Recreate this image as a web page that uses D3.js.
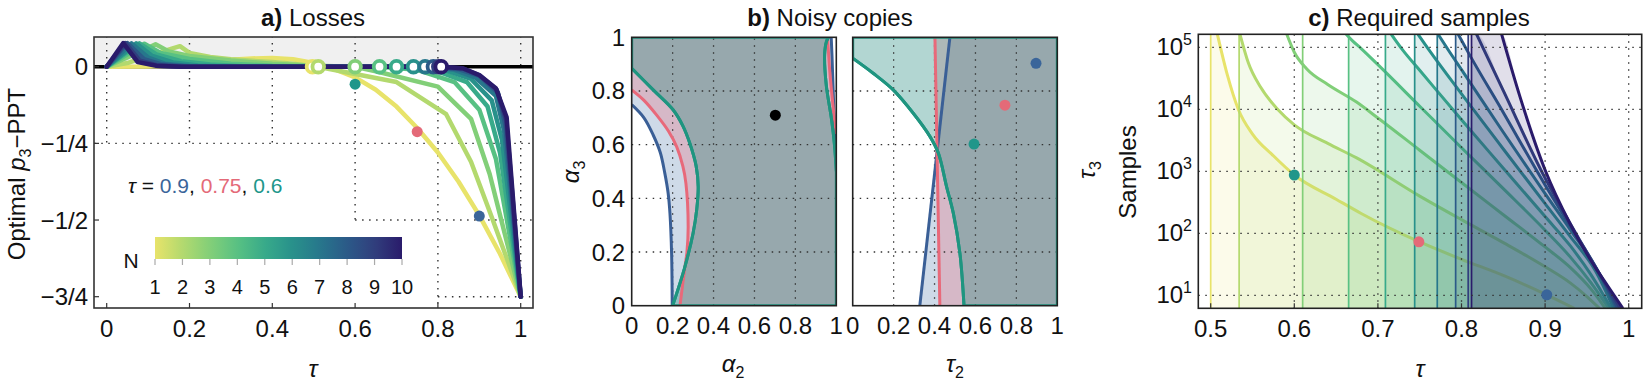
<!DOCTYPE html>
<html>
<head>
<meta charset="utf-8">
<script src="https://cdn.jsdelivr.net/npm/d3@7"></script>
<style>
body { margin: 0; background: #fff; }
</style>
</head>
<body>
<script>
// ---- data ----
var nValues = [1, 2, 3, 4, 5, 6, 7, 8, 9, 10];
var nColors = ["#e8e36a", "#b3d96e", "#82cf78", "#58c183", "#38aa8a", "#28918b", "#27778c", "#2b5a88", "#313e7d", "#2a1b6b"];

var highlightTau = ["0.9", "0.75", "0.6"];
var highlightColors = ["#3a659a", "#e46a78", "#20968a"];

// panel a: optimal p3 - PPT vs tau, one curve per N
var lossCurves = [
  [[0,0],[0.1,0.001],[0.15,0.004],[0.2,0.01],[0.25,0.017],[0.3,0.023],[0.35,0.027],[0.4,0.028],[0.45,0.024],[0.5,0.012],[0.55,-0.008],[0.6,-0.035],[0.65,-0.075],[0.7,-0.13],[0.75,-0.2],[0.8,-0.28],[0.85,-0.375],[0.9,-0.485],[0.95,-0.61],[1,-0.75]],
  [[0,0],[0.05,0.012],[0.1,0.035],[0.177,0.067],[0.2,0.045],[0.25,0.032],[0.3,0.024],[0.4,0.015],[0.45,0.01],[0.51,0],[0.6,-0.024],[0.7,-0.05],[0.82,-0.155],[0.88,-0.31],[0.93,-0.49],[1,-0.75]],
  [[0,0],[0.05,0.03],[0.118,0.073],[0.15,0.05],[0.2,0.035],[0.3,0.02],[0.4,0.01],[0.5,0.003],[0.6,0],[0.65,-0.015],[0.8,-0.065],[0.88,-0.17],[0.925,-0.35],[1,-0.75]],
  [[0,0],[0.05,0.04],[0.091,0.075],[0.13,0.045],[0.2,0.025],[0.3,0.01],[0.4,0.003],[0.5,0],[0.66,0],[0.75,-0.01],[0.84,-0.05],[0.9,-0.14],[0.94,-0.3],[1,-0.75]],
  [[0,0],[0.079,0.076],[0.12,0.04],[0.18,0.018],[0.25,0.007],[0.35,0],[0.7,0],[0.8,-0.015],[0.87,-0.05],[0.92,-0.13],[0.95,-0.28],[1,-0.75]],
  [[0,0],[0.071,0.076],[0.11,0.035],[0.16,0.014],[0.22,0.004],[0.3,0],[0.74,0],[0.82,-0.012],[0.88,-0.04],[0.93,-0.11],[0.955,-0.24],[1,-0.75]],
  [[0,0],[0.06,0.076],[0.1,0.03],[0.14,0.01],[0.2,0.002],[0.25,0],[0.77,0],[0.84,-0.01],[0.89,-0.035],[0.94,-0.095],[0.96,-0.21],[1,-0.75]],
  [[0,0],[0.05,0.077],[0.09,0.025],[0.13,0.008],[0.2,0],[0.79,0],[0.85,-0.008],[0.9,-0.03],[0.945,-0.085],[0.963,-0.19],[1,-0.75]],
  [[0,0],[0.045,0.077],[0.08,0.02],[0.12,0.005],[0.18,0],[0.802,0],[0.86,-0.006],[0.9,-0.028],[0.942,-0.075],[0.965,-0.175],[1,-0.75]],
  [[0,0],[0.04,0.077],[0.075,0.015],[0.12,0.003],[0.18,0],[0.808,0],[0.86,-0.005],[0.9,-0.027],[0.94,-0.07],[0.966,-0.165],[1,-0.75]]
];
var zeroCrossings = [0.497, 0.511, 0.6, 0.659, 0.7, 0.741, 0.769, 0.789, 0.802, 0.808];
var lossDots = [[0.9, -0.487], [0.75, -0.212], [0.6, -0.057]];
var lossTicksX = [0, 0.2, 0.4, 0.6, 0.8, 1];
var lossTickLabelsX = ["0", "0.2", "0.4", "0.6", "0.8", "1"];
var lossTicksY = [0, -0.25, -0.5, -0.75];
var lossTickLabelsY = ["0", "\u22121/4", "\u22121/2", "\u22123/4"];
// dotted grid pieces [x1, y1, x2, y2]
var lossGrid = [
  [0, 0.1, 0, -0.25], [0.2, 0.1, 0.2, -0.25], [0.4, 0.1, 0.4, -0.25],
  [0.6, 0.1, 0.6, -0.5], [0.8, 0.1, 0.8, -0.79], [1, 0.1, 1, -0.75],
  [-0.03, -0.25, 1.03, -0.25], [0.6, -0.5, 1.03, -0.5], [0.8, -0.75, 1.03, -0.75]
];

// panel b left: alpha2 / alpha3 regions
var blueLeftA = [[0,0.749],[0.06,0.7],[0.105,0.636],[0.14,0.57],[0.162,0.493],[0.178,0.42],[0.187,0.344],[0.195,0.195],[0.198,0]];
var redLeftA = [[0,0.804],[0.06,0.765],[0.122,0.71],[0.18,0.65],[0.22,0.592],[0.25,0.52],[0.265,0.456],[0.276,0.294],[0.27,0.2],[0.26,0.145],[0.236,0]];
var tealLeftA = [[0,0.884],[0.105,0.804],[0.203,0.729],[0.25,0.67],[0.284,0.605],[0.315,0.52],[0.325,0.443],[0.318,0.36],[0.3,0.27],[0.26,0.145],[0.2,0]];
var blueRightA = [[1,0.6],[0.99,0.7],[0.984,0.82],[0.979,0.93],[0.976,0.984],[0.975,1]];
var redRightA = [[1,0.64],[0.987,0.723],[0.967,0.884],[0.959,0.984],[0.958,1]];
var tealRightA = [[1,0.5],[0.991,0.6],[0.976,0.698],[0.951,0.822],[0.943,0.934],[0.952,0.985],[0.962,1]];
var alphaDot = [0.702, 0.71];

// panel b right: tau2 / tau3 regions
var blueLineT = [[0.328,0],[0.475,1]];
var redLineT = [[0.426,0],[0.402,1]];
var tealCurveT = [[0,0.922],[0.1,0.866],[0.198,0.804],[0.296,0.717],[0.378,0.63],[0.419,0.568],[0.459,0.443],[0.492,0.344],[0.524,0.195],[0.544,0]];
var tauDots = [[0.896,0.903],[0.744,0.747],[0.593,0.602]];
var unitTicks = [0, 0.2, 0.4, 0.6, 0.8, 1];
var unitTickLabels = ["0", "0.2", "0.4", "0.6", "0.8", "1"];

// panel c: required samples (log10) vs tau
var sampleThresholds = [0.5, 0.534, 0.61, 0.665, 0.709, 0.744, 0.771, 0.793, 0.808, 0.812];
var sampleCurvesLog10 = [
  [[0.508,5.21],[0.52,4.55],[0.533,4.0],[0.55,3.6],[0.575,3.25],[0.6,2.94],[0.65,2.55],[0.68,2.32],[0.75,1.86],[0.8,1.58],[0.85,1.32],[0.9,1.02],[0.935,0.79]],
  [[0.535,5.21],[0.545,4.75],[0.56,4.35],[0.58,4.0],[0.6,3.75],[0.64,3.45],[0.674,3.22],[0.75,2.6],[0.8,2.22],[0.85,1.85],[0.9,1.46],[0.93,1.2],[0.95,0.98],[0.965,0.79]],
  [[0.591,5.21],[0.6,4.92],[0.615,4.65],[0.64,4.4],[0.674,4.12],[0.7,3.86],[0.75,3.34],[0.8,2.82],[0.85,2.3],[0.9,1.78],[0.93,1.45],[0.955,1.1],[0.972,0.79]],
  [[0.662,5.21],[0.67,5.1],[0.68,4.98],[0.7,4.72],[0.75,4.05],[0.8,3.38],[0.85,2.72],[0.9,2.05],[0.93,1.62],[0.955,1.2],[0.976,0.79]],
  [[0.716,5.21],[0.73,4.95],[0.75,4.63],[0.8,3.83],[0.85,3.05],[0.9,2.27],[0.93,1.8],[0.955,1.33],[0.979,0.79]],
  [[0.748,5.21],[0.76,4.98],[0.8,4.25],[0.85,3.36],[0.9,2.48],[0.93,1.95],[0.96,1.4],[0.982,0.79]],
  [[0.772,5.21],[0.785,4.94],[0.8,4.64],[0.85,3.63],[0.9,2.64],[0.93,2.06],[0.96,1.46],[0.985,0.79]],
  [[0.796,5.21],[0.81,4.87],[0.85,3.95],[0.9,2.78],[0.93,2.12],[0.96,1.47],[0.987,0.79]],
  [[0.818,5.21],[0.85,4.3],[0.9,2.89],[0.93,2.16],[0.96,1.46],[0.99,0.79]],
  [[0.848,5.21],[0.87,4.2],[0.9,3.02],[0.93,2.15],[0.96,1.45],[0.975,1.15],[0.993,0.79]]
];
var sampleDots = [[0.902, 10.2], [0.749, 73], [0.6, 870]];
var tauTicksC = [0.5, 0.6, 0.7, 0.8, 0.9, 1];
var tauTickLabelsC = ["0.5", "0.6", "0.7", "0.8", "0.9", "1"];
var sampleTicks = [10, 100, 1000, 10000, 100000];
var sampleTickExps = ["1", "2", "3", "4", "5"];

// ---- drawing ----
var FONT = "'Liberation Sans', Arial, sans-serif";
var DOTS = "1.5,5.5";
var svg = d3.select("body").append("svg").attr("width", 1644).attr("height", 386)
  .style("font-family", FONT);
var defs = svg.append("defs");

function clip(id, x0, y0, x1, y1) {
  defs.append("clipPath").attr("id", id).append("rect")
    .attr("x", x0).attr("y", y0).attr("width", x1 - x0).attr("height", y1 - y0);
  return "url(#" + id + ")";
}
function txt(g, x, y, s, size, anchor) {
  return g.append("text").attr("x", x).attr("y", y).attr("font-size", size)
    .attr("text-anchor", anchor || "middle").attr("fill", "#111").text(s);
}
function title(x, bold, rest) {
  var t = svg.append("text").attr("x", x).attr("y", 26).attr("font-size", 24)
    .attr("text-anchor", "middle").attr("fill", "#111");
  t.append("tspan").attr("font-weight", "bold").text(bold);
  t.append("tspan").text(" " + rest);
}
function subLabel(g, x, y, sym, sub, rot) {
  var t = g.append("text").attr("font-size", 24).attr("fill", "#111")
    .attr("text-anchor", "middle")
    .attr("transform", "translate(" + x + "," + y + ")" + (rot ? " rotate(-90)" : ""));
  t.append("tspan").attr("font-style", "italic").text(sym);
  t.append("tspan").attr("font-size", 16).attr("dy", 6).text(sub);
  return t;
}

// ===== panel a =====
var boxA = {x0: 94, x1: 533, y0: 37, y1: 308};
var xA = d3.scaleLinear().domain([0, 1]).range([106.7, 520.7]);
var yA = d3.scaleLinear().domain([0, -0.75]).range([66.7, 296.7]);
var gA = svg.append("g");
var clipA = clip("clipA", boxA.x0, boxA.y0, boxA.x1, boxA.y1);
var inA = gA.append("g").attr("clip-path", clipA);

inA.append("rect").attr("x", boxA.x0).attr("y", boxA.y0)
  .attr("width", boxA.x1 - boxA.x0).attr("height", yA(0) - boxA.y0).attr("fill", "#f0f0f0");

inA.selectAll("line.grid").data(lossGrid).enter().append("line")
  .attr("x1", d => xA(d[0])).attr("y1", d => yA(d[1]))
  .attr("x2", d => xA(d[2])).attr("y2", d => yA(d[3]))
  .attr("stroke", "#333").attr("stroke-width", 1.4).attr("stroke-dasharray", DOTS);

inA.append("line").attr("x1", boxA.x0).attr("x2", boxA.x1)
  .attr("y1", yA(0)).attr("y2", yA(0)).attr("stroke", "#000").attr("stroke-width", 3.5);

var lineA = d3.line().x(d => xA(d[0])).y(d => yA(d[1]));
inA.selectAll("path.loss").data(lossCurves).enter().append("path")
  .attr("d", lineA).attr("fill", "none")
  .attr("stroke", (d, i) => nColors[i]).attr("stroke-width", 4.5)
  .attr("stroke-linejoin", "round").attr("stroke-linecap", "round");

inA.selectAll("circle.open").data(zeroCrossings).enter().append("circle")
  .attr("cx", d => xA(d)).attr("cy", yA(0)).attr("r", 5.8)
  .attr("fill", "#fff").attr("stroke", (d, i) => nColors[i]).attr("stroke-width", 3.8);

inA.selectAll("circle.hl").data(lossDots).enter().append("circle")
  .attr("cx", d => xA(d[0])).attr("cy", d => yA(d[1])).attr("r", 5.5)
  .attr("fill", (d, i) => highlightColors[i]);

gA.append("rect").attr("x", boxA.x0).attr("y", boxA.y0)
  .attr("width", boxA.x1 - boxA.x0).attr("height", boxA.y1 - boxA.y0)
  .attr("fill", "none").attr("stroke", "#333").attr("stroke-width", 1.6);

lossTicksX.forEach(function (t, i) {
  gA.append("line").attr("x1", xA(t)).attr("x2", xA(t)).attr("y1", boxA.y1).attr("y2", boxA.y1 - 5)
    .attr("stroke", "#333").attr("stroke-width", 1.2);
  txt(gA, xA(t), 337, lossTickLabelsX[i], 24);
});
lossTicksY.forEach(function (t, i) {
  gA.append("line").attr("x1", boxA.x0).attr("x2", boxA.x0 + 5).attr("y1", yA(t)).attr("y2", yA(t))
    .attr("stroke", "#333").attr("stroke-width", 1.2);
  txt(gA, 88, yA(t) + 8.5, lossTickLabelsY[i], 24, "end");
});
txt(gA, 313, 377, "\u03c4", 24).attr("font-style", "italic");
var yl = gA.append("text").attr("font-size", 24).attr("fill", "#111").attr("text-anchor", "middle")
  .attr("transform", "translate(25,174) rotate(-90)");
yl.append("tspan").text("Optimal ");
yl.append("tspan").attr("font-style", "italic").text("p");
yl.append("tspan").attr("font-size", 16).attr("dy", 6).text("3");
yl.append("tspan").attr("dy", -6).text("\u2212PPT");

var leg = gA.append("text").attr("x", 128).attr("y", 193).attr("font-size", 21).attr("fill", "#111");
leg.append("tspan").attr("font-style", "italic").text("\u03c4");
leg.append("tspan").text(" = ");
highlightTau.forEach(function (t, i) {
  leg.append("tspan").attr("fill", highlightColors[i]).text(t);
  if (i < highlightTau.length - 1) leg.append("tspan").text(", ");
});

// colour bar
var cbX = d3.scaleLinear().domain([1, 10]).range([155, 402]);
var interp = d3.piecewise(d3.interpolateRgb, nColors);
var grad = defs.append("linearGradient").attr("id", "cbar");
d3.range(0, 1.0001, 0.05).forEach(function (t) {
  grad.append("stop").attr("offset", t).attr("stop-color", interp(t));
});
gA.append("rect").attr("x", cbX(1)).attr("y", 237).attr("width", cbX(10) - cbX(1)).attr("height", 22)
  .attr("fill", "url(#cbar)");
nValues.forEach(function (n) {
  gA.append("line").attr("x1", cbX(n)).attr("x2", cbX(n)).attr("y1", 259).attr("y2", 265)
    .attr("stroke", "#aaa").attr("stroke-width", 1.2);
  txt(gA, cbX(n), 294, String(n), 20);
});
txt(gA, 131, 268, "N", 21);
title(313, "a)", "Losses");

// ===== panel b =====
var xB1 = d3.scaleLinear().domain([0, 1]).range([631.7, 836.3]);
var xB2 = d3.scaleLinear().domain([0, 1]).range([852.7, 1057.3]);
var yB = d3.scaleLinear().domain([0, 1]).range([305.7, 37.3]);
var fillB = {blue: ["#3b6aa5", 0.25], red: ["#e8697a", 0.3], teal: ["#23897d", 0.35]};
var lineB = {blue: "#3a5f96", red: "#e8697a", teal: "#1f9580"};
var gB = svg.append("g");

function subpanel(xs, id, regions) {
  var cp = clip(id, xs(0), yB(1), xs(1), yB(0));
  var g = gB.append("g").attr("clip-path", cp);
  var smooth = d3.line().x(d => xs(d[0])).y(d => yB(d[1])).curve(d3.curveCatmullRom);
  regions.forEach(function (r) {
    g.append("path").attr("d", r.area(smooth, xs)).attr("fill", fillB[r.c][0])
      .attr("fill-opacity", fillB[r.c][1]);
  });
  // grid
  [0.2, 0.4, 0.6, 0.8].forEach(function (t) {
    g.append("line").attr("x1", xs(t)).attr("x2", xs(t)).attr("y1", yB(0)).attr("y2", yB(1))
      .attr("stroke", "#333").attr("stroke-width", 1.3).attr("stroke-dasharray", DOTS);
    g.append("line").attr("x1", xs(0)).attr("x2", xs(1)).attr("y1", yB(t)).attr("y2", yB(t))
      .attr("stroke", "#333").attr("stroke-width", 1.3).attr("stroke-dasharray", DOTS);
  });
  gB.append("rect").attr("x", xs(0)).attr("y", yB(1)).attr("width", xs(1) - xs(0))
    .attr("height", yB(0) - yB(1)).attr("fill", "none").attr("stroke", "#222").attr("stroke-width", 1.6);
  regions.forEach(function (r) {
    r.lines.forEach(function (pts) {
      g.append("path").attr("d", smooth(pts)).attr("fill", "none")
        .attr("stroke", lineB[r.c]).attr("stroke-width", 3);
    });
    if (r.outline) {
      g.append("path").attr("d", r.area(smooth, xs)).attr("fill", "none")
        .attr("stroke", lineB[r.c]).attr("stroke-width", 3);
    }
  });
  return g;
}
function P(xs, x, y) { return xs(x) + "," + yB(y); }
function leftRegion(c, left, right, outline) {
  return {
    c: c, lines: [left, right], outline: outline,
    area: function (smooth, xs) {
      return "M" + P(xs, 0, 1) + smooth(left).replace(/^M/, "L") + "L" + P(xs, 1, 0) +
        smooth(right).replace(/^M/, "L") + "Z";
    }
  };
}
var gL = subpanel(xB1, "clipB1", [
  leftRegion("blue", blueLeftA, blueRightA),
  leftRegion("red", redLeftA, redRightA),
  leftRegion("teal", tealLeftA, tealRightA, true)
]);
gL.append("circle").attr("cx", xB1(alphaDot[0])).attr("cy", yB(alphaDot[1])).attr("r", 5.5).attr("fill", "#000");

function halfPlane(c, pts) {
  return {
    c: c, lines: [pts],
    area: function (smooth, xs) {
      return "M" + P(xs, pts[0][0], pts[0][1]) + "L" + P(xs, pts[1][0], pts[1][1]) +
        "L" + P(xs, 1, 1) + "L" + P(xs, 1, 0) + "Z";
    }
  };
}
var gR = subpanel(xB2, "clipB2", [
  halfPlane("blue", blueLineT),
  halfPlane("red", redLineT),
  {
    c: "teal", lines: [tealCurveT], outline: true,
    area: function (smooth, xs) {
      return "M" + P(xs, 0, 1) + smooth(tealCurveT).replace(/^M/, "L") + "L" + P(xs, 1, 0) +
        "L" + P(xs, 1, 1) + "Z";
    }
  }
]);
gR.selectAll("circle.t").data(tauDots).enter().append("circle")
  .attr("cx", d => xB2(d[0])).attr("cy", d => yB(d[1])).attr("r", 5.5)
  .attr("fill", (d, i) => highlightColors[i]);

unitTicks.forEach(function (t, i) {
  txt(gB, xB1(t), 334, unitTickLabels[i], 24);
  txt(gB, xB2(t), 334, unitTickLabels[i], 24);
  txt(gB, 625, yB(t) + 8.5, unitTickLabels[i], 24, "end");
});
subLabel(gB, 733, 372, "\u03b1", "2");
subLabel(gB, 955, 372, "\u03c4", "2");
subLabel(gB, 579, 172, "\u03b1", "3", true);
subLabel(gB, 1095, 170, "\u03c4", "3", true);
title(830, "b)", "Noisy copies");

// ===== panel c =====
var boxC = {x0: 1198.3, x1: 1641.7, y0: 34.3, y1: 308.3};
var xC = d3.scaleLinear().domain([0.5, 1]).range([1210.7, 1628.7]);
var yC = d3.scaleLog().domain([10, 100000]).range([295.3, 47.3]);
var gC = svg.append("g");
var clipC = clip("clipC", boxC.x0, boxC.y0, boxC.x1, boxC.y1);
var inC = gC.append("g").attr("clip-path", clipC);

var areaC = d3.area().x(d => xC(d[0])).y0(boxC.y1).y1(d => yC(Math.pow(10, d[1])))
  .curve(d3.curveMonotoneX);
var lineC = d3.line().x(d => xC(d[0])).y(d => yC(Math.pow(10, d[1]))).curve(d3.curveMonotoneX);

sampleCurvesLog10.forEach(function (pts, i) {
  var cp = clip("thr" + i, xC(sampleThresholds[i]), boxC.y0, boxC.x1, boxC.y1);
  inC.append("path").attr("d", areaC([[0.48, pts[0][1]]].concat(pts)))
    .attr("clip-path", cp).attr("fill", nColors[i]).attr("fill-opacity", 0.14);
  inC.append("line").attr("x1", xC(sampleThresholds[i])).attr("x2", xC(sampleThresholds[i]))
    .attr("y1", boxC.y0).attr("y2", boxC.y1).attr("stroke", nColors[i]).attr("stroke-width", 1.7);
  inC.append("path").attr("d", lineC(pts)).attr("fill", "none")
    .attr("stroke", nColors[i]).attr("stroke-width", 3);
});

tauTicksC.slice(1).forEach(function (t) {
  inC.append("line").attr("x1", xC(t)).attr("x2", xC(t)).attr("y1", boxC.y0).attr("y2", boxC.y1)
    .attr("stroke", "#333").attr("stroke-width", 1.3).attr("stroke-dasharray", DOTS);
});
sampleTicks.forEach(function (s) {
  inC.append("line").attr("x1", boxC.x0).attr("x2", boxC.x1).attr("y1", yC(s)).attr("y2", yC(s))
    .attr("stroke", "#333").attr("stroke-width", 1.3).attr("stroke-dasharray", DOTS);
});
inC.selectAll("circle.s").data(sampleDots).enter().append("circle")
  .attr("cx", d => xC(d[0])).attr("cy", d => yC(d[1])).attr("r", 5.5)
  .attr("fill", (d, i) => highlightColors[i]);

gC.append("rect").attr("x", boxC.x0).attr("y", boxC.y0)
  .attr("width", boxC.x1 - boxC.x0).attr("height", boxC.y1 - boxC.y0)
  .attr("fill", "none").attr("stroke", "#222").attr("stroke-width", 1.6);

tauTicksC.forEach(function (t, i) {
  gC.append("line").attr("x1", xC(t)).attr("x2", xC(t)).attr("y1", boxC.y1).attr("y2", boxC.y1 - 5)
    .attr("stroke", "#333").attr("stroke-width", 1.2);
  txt(gC, xC(t), 337, tauTickLabelsC[i], 24);
});
sampleTicks.forEach(function (s, i) {
  var t = gC.append("text").attr("x", 1192).attr("y", yC(s) + 8).attr("font-size", 24)
    .attr("text-anchor", "end").attr("fill", "#111");
  t.append("tspan").text("10");
  t.append("tspan").attr("font-size", 16).attr("dy", -10).text(sampleTickExps[i]);
});
txt(gC, 1420, 377, "\u03c4", 24).attr("font-style", "italic");
txt(gC, 0, 0, "Samples", 24).attr("transform", "translate(1136,172) rotate(-90)");
title(1419, "c)", "Required samples");
</script>
</body>
</html>
